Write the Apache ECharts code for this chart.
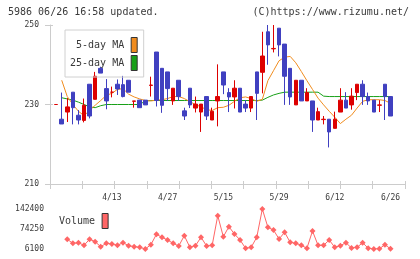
<!DOCTYPE html>
<html>
<head>
<meta charset="utf-8">
<script src="https://cdn.jsdelivr.net/npm/echarts@6.0.0/dist/echarts.min.js"></script>
<style>
  html, body { margin: 0; padding: 0; background: #fff; }
  #chart { width: 420px; height: 259px; }
</style>
</head>
<body>
<div id="chart"></div>
<script>
  // daily candles, index 0 .. 60 (last one is 6/26)
  const openPrice = [230, 226.3, 228.1, 233.1, 227.3, 226.0, 235.1, 231.3, 239.1, 234.0,
    233.1, 235.1, 235.0, 236.1, 230.8, 231.1, 231.1, 234.8, 243.2, 239.1,
    238.2, 230.9, 236.1, 228.4, 234.1, 229.1, 228.1, 232.0, 226.1, 230.9,
    238.2, 233.0, 231.9, 234.1, 230.1, 229.1, 238.2, 238.1, 248.3, 244.0,
    249.2, 245.2, 239.1, 229.9, 236.1, 230.9, 230.9, 226.1, 226.2, 226.3,
    224.0, 228.1, 231.1, 229.9, 233.0, 235.1, 232.0, 231.1, 229.8, 235.1, 232.0]
  const closePrice = [230, 225.1, 229.4, 229.2, 226.1, 229.8, 227.1, 237.1, 237.9, 230.9,
    233.1, 233.9, 232.0, 233.1, 230.9, 229.2, 229.9, 234.9, 231.0, 229.8,
    234.0, 234.1, 232.0, 227.1, 229.9, 230.1, 230.1, 227.1, 228.3, 232.0,
    234.9, 231.9, 234.1, 228.1, 229.1, 232.0, 232.8, 242.2, 245.0, 244.1,
    245.0, 237.1, 231.9, 236.1, 230.9, 233.0, 226.1, 228.2, 226.3, 223.1,
    226.3, 231.1, 229.1, 232.1, 235.1, 232.0, 230.9, 228.1, 229.9, 232.0, 227.1]
  const lowPrice = [230, 225.1, 225.6, 225.0, 225.0, 225.5, 226.5, 231.3, 237.9, 228.8,
    231.8, 232.4, 231.8, 233.1, 229.2, 229.2, 229.9, 232.0, 229.5, 227.9,
    230.9, 229.9, 230.9, 226.1, 229.1, 228.0, 223.1, 226.1, 226.1, 224.5,
    232.6, 228.1, 229.0, 228.1, 228.1, 228.1, 226.1, 232.8, 240.0, 243.1,
    242.1, 229.9, 229.9, 229.9, 230.9, 230.9, 223.1, 226.1, 225.0, 219.2,
    224.0, 228.1, 229.1, 228.7, 231.1, 229.9, 229.9, 228.1, 228.1, 226.1, 227.1]
  const highPrice = [230, 233.0, 231.6, 233.1, 228.6, 231.5, 235.1, 238.2, 239.5, 236.4,
    234.5, 236.3, 237.2, 236.1, 230.9, 231.1, 231.1, 237.0, 243.2, 239.1,
    238.2, 234.1, 236.1, 229.2, 234.1, 232.0, 230.1, 232.0, 229.2, 240.1,
    238.2, 234.1, 236.1, 234.1, 231.1, 232.0, 238.2, 248.3, 250.0, 250.0,
    249.2, 245.2, 239.1, 236.1, 236.1, 234.1, 230.9, 229.2, 227.1, 226.3,
    228.2, 234.1, 233.1, 234.1, 235.1, 236.1, 233.0, 231.1, 231.1, 235.1, 232.0]

  const ma5 = [null, 236.1, 232.0, 230.0, 228.3, 227.2, 228.5, 229.8, 231.0, 232.3,
    232.8, 233.8, 234.0, 232.6, 231.9, 231.4, 231.0, 230.9, 231.1, 231.2,
    231.5, 232.0, 232.0, 231.5, 230.7, 230.0, 229.4, 228.7, 228.5, 229.2,
    229.3, 229.8, 230.8, 231.7, 231.9, 231.5, 230.8, 231.3, 236.0, 238.5,
    241.0, 241.9, 242.1, 240.5, 238.3, 236.0, 233.8, 231.6, 229.9, 228.3,
    226.8, 225.2, 226.3, 227.3, 229.1, 230.8, 231.2, 231.2, 231.2, 231.0, 230.3]
  const ma25 = [null, 231.7, 231.4, 231.1, 230.6, 230.0, 229.4, 229.2, 229.7, 230.0,
    230.0, 230.0, 230.0, 230.0, 230.0, 230.0, 230.9, 231.0, 231.0, 231.0,
    231.0, 231.0, 231.0, 231.0, 231.0, 231.0, 231.0, 231.0, 231.0, 231.0,
    231.0, 231.0, 231.0, 231.0, 231.0, 231.0, 231.0, 231.1, 231.8, 232.4,
    232.8, 233.1, 233.1, 233.1, 233.1, 233.1, 233.1, 233.1, 232.1, 232.0,
    232.0, 232.0, 232.0, 232.0, 232.0, 232.0, 232.0, 232.0, 232.0, 232.0, 232.0]

  const volume = [null, null, 39200, 25500, 27600, 18700, 39200, 31000, 13900, 25500,
    23100, 18700, 27600, 17400, 13900, 11900, 6100, 20800, 56200, 46000,
    36800, 25500, 16300, 51400, 11900, 17400, 46000, 16300, 18700, 119600,
    48000, 82100, 57200, 36800, 8500, 11900, 46000, 142400, 80000, 70800,
    40200, 63000, 28900, 25500, 18700, 8500, 67400, 18700, 18700, 36800,
    11900, 17400, 27600, 9500, 11900, 27600, 8500, 6400, 6800, 20800, 6600]

  const dateTicks = ['4/13', '4/27', '5/15', '5/29', '6/12', '6/26']
  const dateTickPos = [10, 20, 30, 40, 50, 60]
  const volumeTicks = [6100, 74250, 142400]

  const fontFamily = 'DejaVu Sans Mono'
  const textColor = '#3a3a3a'
  const axisGray = '#cccccc'
  const upColor = '#dd0000'
  const downColor = '#4040c0'
  const ma5Color = '#f08c1e'
  const ma25Color = '#18a018'
  const volColor = '#ff6666'
  // x extent in candle-index units
  const xMin = -1.1
  const xMax = 62.6

  const candleData = openPrice.map((o, i) => [i, o, closePrice[i], lowPrice[i], highPrice[i]])
  const toPoints = arr => arr.map((v, i) => [i, v]).filter(p => p[1] !== null)

  const chart = echarts.init(document.getElementById('chart'))
  chart.setOption({
    animation: false,
    title: [
      {
        text: '5986 06/26 16:58 updated.',
        left: 8, top: 7, padding: 0,
        textStyle: { fontFamily, fontSize: 10, fontWeight: 'normal', color: textColor }
      },
      {
        text: '(C)https://www.rizumu.net/',
        right: 11, top: 7, padding: 0,
        textStyle: { fontFamily, fontSize: 10, fontWeight: 'normal', color: textColor }
      }
    ],
    legend: [
      {
        data: ['5-day MA', '25-day MA'],
        orient: 'vertical',
        align: 'right',
        left: 65, top: 30,
        padding: [7, 6, 6, 5],
        itemGap: 2, itemWidth: 6, itemHeight: 15,
        icon: 'rect',
        borderColor: '#d0d0d0', borderWidth: 1,
        selectedMode: false,
        itemStyle: { borderColor: '#333', borderWidth: 1 },
        textStyle: { fontFamily, fontSize: 10, color: textColor, padding: [0, 2, 0, 0] }
      },
      {
        data: ['Volume'],
        align: 'right',
        left: 59, top: 213,
        padding: 0,
        itemWidth: 6, itemHeight: 15,
        icon: 'rect',
        selectedMode: false,
        itemStyle: { borderColor: '#333', borderWidth: 1 },
        textStyle: { fontFamily, fontSize: 10, color: textColor, padding: [0, 2, 0, 0] }
      }
    ],
    grid: [
      { left: 50, top: 25, width: 355, height: 159 },
      { left: 50, top: 209, width: 355, height: 40 }
    ],
    xAxis: [
      {
        gridIndex: 0, type: 'value', position: 'bottom', min: xMin, max: xMax,
        axisLine: { show: false, onZero: false },
        axisTick: { show: false },
        splitLine: { show: false },
        axisLabel: {
          customValues: dateTickPos,
          formatter: v => dateTicks[dateTickPos.indexOf(Math.round(v))] || '',
          fontFamily, fontSize: 8, color: textColor, margin: 10
        }
      },
      {
        // plain tick marks along the bottom
        gridIndex: 0, type: 'value', position: 'bottom', min: 0, max: 11, interval: 1,
        axisLine: { onZero: false, lineStyle: { color: axisGray } },
        axisTick: { length: 5, lineStyle: { color: axisGray } },
        axisLabel: { show: false },
        splitLine: { show: false }
      },
      {
        gridIndex: 0, type: 'value', position: 'bottom', min: 0, max: 11, interval: 1,
        axisLine: { show: false, onZero: false },
        axisTick: { inside: true, length: 3, lineStyle: { color: axisGray } },
        axisLabel: { show: false },
        splitLine: { show: false }
      },
      {
        gridIndex: 1, type: 'value', min: xMin, max: xMax, show: false,
        axisLine: { onZero: false }
      }
    ],
    yAxis: [
      {
        gridIndex: 0, type: 'value', position: 'left', min: 210, max: 250, interval: 20,
        axisLine: { show: true, onZero: false, lineStyle: { color: axisGray } },
        axisTick: { length: 5, lineStyle: { color: axisGray } },
        splitLine: { show: false },
        axisLabel: { fontFamily, fontSize: 8, color: textColor, margin: 11 }
      },
      {
        gridIndex: 0, type: 'value', position: 'left', min: 210, max: 250, interval: 20,
        axisLine: { show: false, onZero: false },
        axisTick: { inside: true, length: 3, lineStyle: { color: axisGray } },
        splitLine: { show: false },
        axisLabel: { show: false }
      },
      {
        gridIndex: 1, type: 'value', position: 'left', min: 6100, max: 142400,
        axisLine: { show: false, onZero: false },
        axisTick: { show: false },
        splitLine: { show: false },
        axisLabel: {
          customValues: volumeTicks,
          formatter: v => String(v),
          fontFamily, fontSize: 8, color: textColor, margin: 6
        }
      }
    ],
    series: [
      {
        name: '25-day MA', type: 'line', xAxisIndex: 0, yAxisIndex: 0,
        data: toPoints(ma25),
        symbol: 'none', color: ma25Color,
        lineStyle: { width: 1, color: ma25Color },
        z: 2
      },
      {
        name: '5-day MA', type: 'line', xAxisIndex: 0, yAxisIndex: 0,
        data: toPoints(ma5),
        symbol: 'none', color: ma5Color,
        lineStyle: { width: 1, color: ma5Color },
        z: 2
      },
      {
        name: 'price', type: 'candlestick', xAxisIndex: 0, yAxisIndex: 0,
        data: candleData,
        barWidth: 4,
        itemStyle: {
          color: upColor, color0: downColor,
          borderColor: upColor, borderColor0: downColor,
          borderWidth: 1
        },
        z: 3
      },
      {
        name: 'Volume', type: 'line', xAxisIndex: 3, yAxisIndex: 2,
        data: toPoints(volume),
        symbol: 'diamond', symbolSize: 6,
        color: volColor,
        itemStyle: { color: volColor },
        lineStyle: { width: 1, color: volColor }
      }
    ]
  })
</script>
</body>
</html>
